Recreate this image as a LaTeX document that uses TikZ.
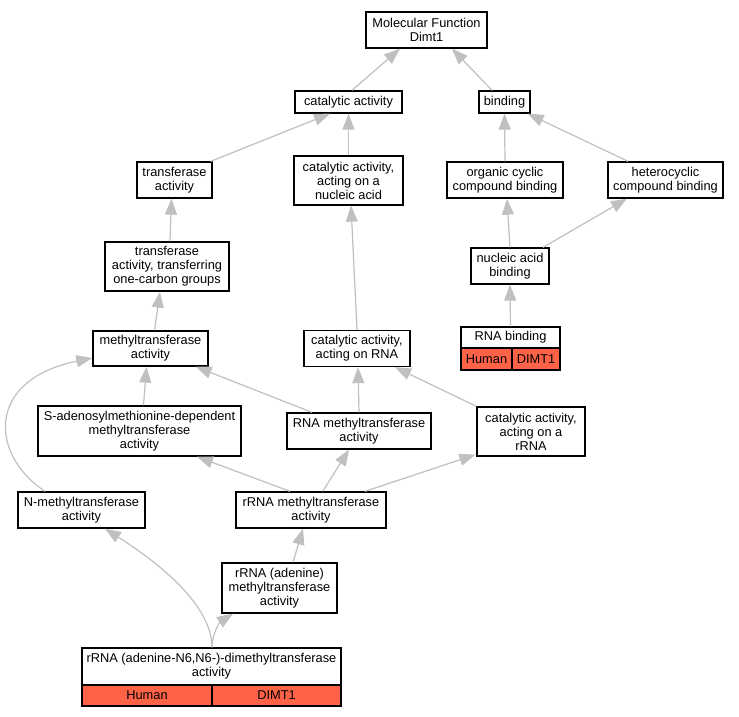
\documentclass[tikz,border=0pt]{standalone}
\usepackage{fontspec}
\setmainfont{Liberation Sans}
\usetikzlibrary{arrows.meta,calc}
\definecolor{edgegray}{RGB}{192,192,192}
\definecolor{tomatored}{RGB}{255,99,71}
\tikzset{
 gbox/.style={draw=black,line width=1.3pt,fill=white,inner sep=0pt,align=center,font=\fontsize{12.8}{14}\selectfont},
 gcell/.style={gbox,fill=tomatored},
 gedge/.style={draw=edgegray,line width=1.2pt,arrows={-Triangle[length=16pt,width=12pt]}}
}
\begin{document}
\begin{tikzpicture}[x=1pt,y=-1pt]
\useasboundingbox (0,0) rectangle (739,717);
\fill[white] (0,0) rectangle (739,717);
% nodes
\node[gbox,minimum width=121,minimum height=36] (mf) at (426.5,30) {Molecular Function\\Dimt1};
\node[gbox,minimum width=107,minimum height=22] (cat) at (348.5,102) {catalytic activity};
\node[gbox,minimum width=51,minimum height=22] (bind) at (504.5,102) {binding};
\node[gbox,minimum width=75,minimum height=36] (trans) at (174.5,180) {transferase\\activity};
\node[gbox,minimum width=109,minimum height=49] (catna) at (348.5,180.5) {catalytic activity,\\acting on a\\nucleic acid};
\node[gbox,minimum width=116,minimum height=36] (orgc) at (505,180) {organic cyclic\\compound binding};
\node[gbox,minimum width=115,minimum height=36] (hetc) at (665.5,180) {heterocyclic\\compound binding};
\node[gbox,minimum width=78,minimum height=36] (nab) at (510,266) {nucleic acid\\binding};
\node[gbox,minimum width=124,minimum height=49] (transoc) at (167,266.5) {transferase\\activity, transferring\\one-carbon groups};
\node[gbox,minimum width=99,minimum height=21] (rnab) at (510.5,337.5) {RNA binding};
\node[gcell,minimum width=51,minimum height=22] (rnabh) at (486.5,359) {Human};
\node[gcell,minimum width=48,minimum height=22] (rnabg) at (536,359) {DIMT1};
\node[gbox,minimum width=115,minimum height=35] (mt) at (150.5,348.5) {methyltransferase\\activity};
\node[gbox,minimum width=106,minimum height=36] (catrna) at (357,348.5) {catalytic activity,\\acting on RNA};
\node[gbox,minimum width=203,minimum height=50] (sam) at (139.5,431) {S-adenosylmethionine-dependent\\methyltransferase\\activity};
\node[gbox,minimum width=144,minimum height=36] (rnamt) at (359,431) {RNA methyltransferase\\activity};
\node[gbox,minimum width=108,minimum height=49] (catrrna) at (531,431.5) {catalytic activity,\\acting on a\\rRNA};
\node[gbox,minimum width=127,minimum height=36] (nmt) at (81.5,510) {N-methyltransferase\\activity};
\node[gbox,minimum width=150,minimum height=36] (rrnamt) at (311,510) {rRNA methyltransferase\\activity};
\node[gbox,minimum width=115,minimum height=50] (rrnaad) at (279.5,588) {rRNA (adenine)\\methyltransferase\\activity};
\node[gbox,minimum width=259,minimum height=37] (dim) at (211.5,666.5) {rRNA (adenine-N6,N6-)-dimethyltransferase\\activity};
\node[gcell,minimum width=130,minimum height=21] (dimh) at (147,695.5) {Human};
\node[gcell,minimum width=129,minimum height=21] (dimg) at (276.5,695.5) {DIMT1};
% edges
\draw[gedge] ([xshift=3.5pt]cat.north) -- ([xshift=-26.5pt]mf.south);
\draw[gedge] ([xshift=-12.5pt]bind.north) -- ([xshift=25.5pt]mf.south);
\draw[gedge] ([xshift=-2pt]trans.north east) -- ([xshift=-18.5pt]cat.south);
\draw[gedge] (catna.north) -- (cat.south);
\draw[gedge] (orgc.north) -- (bind.south);
\draw[gedge] ([xshift=-37.5pt]hetc.north) -- ([xshift=-3pt]bind.south east);
\draw[gedge] (nab.north) -- ([xshift=2pt]orgc.south);
\draw[gedge] ([xshift=33pt]nab.north) -- ([xshift=-38.5pt]hetc.south);
\draw[gedge] ([xshift=3pt]transoc.north) -- ([xshift=-3pt]trans.south);
\draw[gedge] (rnab.north) -- (nab.south);
\draw[gedge] ([xshift=4pt]mt.north) -- ([xshift=-7pt]transoc.south);
\draw[gedge] (catrna.north) -- ([xshift=2.5pt]catna.south);
\draw[gedge] ([xshift=4pt]sam.north) -- ([xshift=-4pt]mt.south);
\draw[gedge] ([xshift=-47pt]rnamt.north) -- ([xshift=-13pt]mt.south east);
\draw[gedge] (rnamt.north) -- ([xshift=1pt]catrna.south);
\draw[gedge] (catrrna.north west) -- ([xshift=38pt]catrna.south);
\draw[gedge] ([xshift=-21pt]rrnamt.north) -- ([xshift=57.5pt]sam.south);
\draw[gedge] ([xshift=11.7pt]rrnamt.north) -- ([xshift=-10pt]rnamt.south);
\draw[gedge] ([xshift=54pt]rrnamt.north) -- ([xshift=-1pt,yshift=2pt]catrrna.south west);
\draw[gedge] ([xshift=13.5pt]rrnaad.north) -- ([xshift=-8pt]rrnamt.south);
\draw[gedge] ([xshift=-36.5pt]nmt.north) .. controls (-10,455) and (-15,380) .. ([yshift=-9.5pt]mt.west);
\draw[gedge] ([xshift=0.5pt]dim.north) .. controls (212,610) and (170,570) .. ([xshift=23.5pt]nmt.south);
\draw[gedge] ([xshift=0.5pt]dim.north) .. controls (212,634) and (220,622) .. ([xshift=-46.5pt]rrnaad.south);
\end{tikzpicture}
\end{document}
